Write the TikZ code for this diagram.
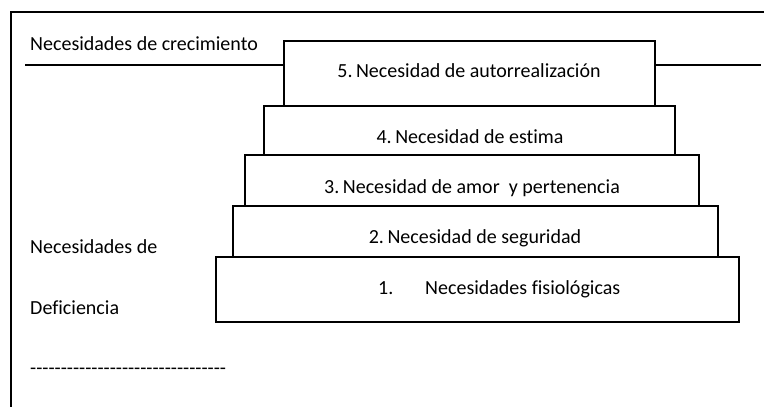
\documentclass[tikz,border=0pt]{standalone}
\usepackage{fontspec}
\setmainfont[Ligatures=NoCommon]{Carlito}
\begin{document}
\begin{tikzpicture}[x=1pt,y=-1pt,
  stepbox/.style={draw=black, line width=2pt, rectangle, inner sep=0pt},
  lbl/.style={inner sep=0pt, font=\fontsize{20}{24}\selectfont, text=black},
  rule/.style={draw=black, line width=2.2pt}]
\useasboundingbox (0,0) rectangle (764,407);
% outer frame
\coordinate (fbl) at (11,408);
\coordinate (ftl) at (11,12);
\coordinate (ftr) at (765,12);
\draw[rule, line cap=rect] (fbl) -- (ftl) -- (ftr);
% steps
\node[stepbox, minimum width=523pt, minimum height=65pt] (b1) at (477.5,289.5) {};
\node[stepbox, minimum width=485pt, minimum height=51pt] (b2) at (475.5,231.5) {};
\node[stepbox, minimum width=454pt, minimum height=51pt] (b3) at (472,180.5) {};
\node[stepbox, minimum width=411pt, minimum height=49pt] (b4) at (469.5,130.5) {};
\node[stepbox, minimum width=371pt, minimum height=65pt] (b5) at (469.5,73.5) {};
% growth line
\coordinate (gl) at (25,65);
\coordinate (gr) at (761,65);
\draw[rule] (gl) -- (gl -| b5.west);
\draw[rule] (gr -| b5.east) -- (gr);
% labels in boxes
\node[lbl, anchor=base] (t5) at (469,77) {5.\kern-1pt\ Necesidad de autorrealización};
\node[lbl, anchor=base] (t4) at (470,143) {4.\kern-1pt\ Necesidad de estima};
\node[lbl, anchor=base] (t3) at (472,193) {3.\kern-1pt\ Necesidad de amor\ \ y pertenencia};
\node[lbl, anchor=base] (t2) at (475,243) {2.\kern-1pt\ Necesidad de seguridad};
\node[lbl, anchor=base west] (t1a) at (378,294) {1.};
\node[lbl, anchor=base west] (t1b) at (425,294) {Necesidades fisiológicas};
% side labels
\node[lbl, anchor=base west] (lc) at (30,50) {Necesidades de crecimiento};
\node[lbl, anchor=base west] (ld1) at (30,253) {Necesidades de};
\node[lbl, anchor=base west] (ld2) at (30,314) {Deficiencia};
\node[lbl, anchor=base west] (dash) at (30,374.5) {-{}-{}-{}-{}-{}-{}-{}-{}-{}-{}-{}-{}-{}-{}-{}-{}-{}-{}-{}-{}-{}-{}-{}-{}-{}-{}-{}-{}-{}-{}-{}-};
\end{tikzpicture}
\end{document}
